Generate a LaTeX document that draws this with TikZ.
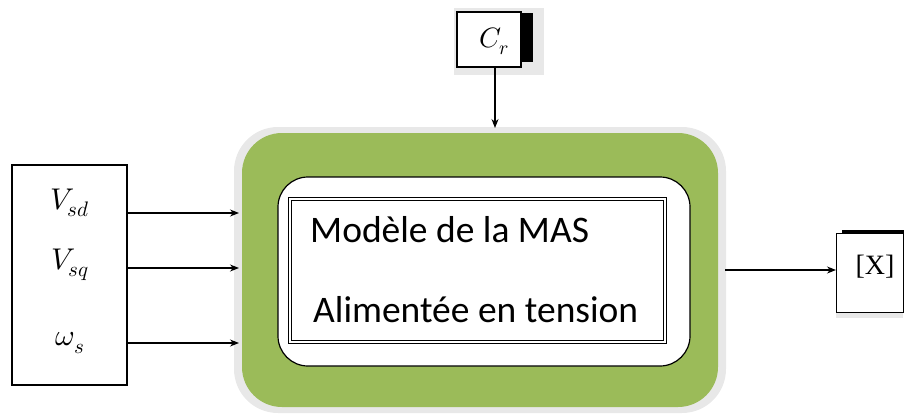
\documentclass[tikz,border=0pt]{standalone}
\usepackage{fontspec}
\usepackage{unicode-math}
\setmainfont{Carlito}
\setmathfont{Latin Modern Math}
\newfontfamily\serifx{Liberation Serif}
\usetikzlibrary{arrows.meta}
\definecolor{olive}{HTML}{9BBB59}
\definecolor{halo}{HTML}{E8E8E8}
\begin{document}
\begin{tikzpicture}[x=1pt,y=-1pt,
  conn/.style={draw=black,line width=1.2pt,-{Stealth[length=9pt,width=7pt]}},
  blk/.style={draw=black,line width=1.2pt,fill=white}]
\useasboundingbox (0,0) rectangle (904,415);
% C_r block
\fill[halo] (454,8) rectangle (544,75);
\fill[black] (515,13) rectangle (533,62);
\node[blk,minimum width=64pt,minimum height=55pt,inner sep=0pt] (cr) at (489,39.5) {};
\node (crl) at (494,41) {\fontsize{28}{30}\selectfont$C_r$};
% main green block
\fill[halo,rounded corners=44pt] (234,127) rectangle (726,413);
\node[fill=olive,rounded corners=40pt,minimum width=476pt,minimum height=274pt,inner sep=0pt] (mas) at (480,270) {};
\node[draw=black,line width=1.2pt,fill=white,rounded corners=30pt,minimum width=412pt,minimum height=189pt,inner sep=0pt] (inner) at (484,271.5) {};
\node[draw=black,line width=0.8pt,minimum width=378pt,minimum height=146pt,inner sep=0pt] (model) at (477,270) {};
\draw[line width=0.8pt] (291,200) rectangle (663,340);
\node[anchor=base west,inner sep=0pt] (t1) at (310,242) {\fontsize{37.5}{40}\selectfont Modèle de la MAS};
\node[anchor=base west,inner sep=0pt] (t2) at (313,322) {\fontsize{37.5}{40}\selectfont Alimentée en tension};
% input block
\node[blk,minimum width=115pt,minimum height=220pt,inner sep=0pt] (in) at (69.5,275) {};
\node (vsd) at (70,203) {\fontsize{30}{32}\selectfont$V_{sd}$};
\node (vsq) at (70,265) {\fontsize{30}{32}\selectfont$V_{sq}$};
\node (ws) at (70,343) {\fontsize{30}{32}\selectfont$\omega_s$};
\coordinate (a1) at (127,213); \coordinate (b1) at (239,213);
\coordinate (a2) at (127,268); \coordinate (b2) at (239,268);
\coordinate (a3) at (127,343); \coordinate (b3) at (239,343);
\draw[conn] (a1) -- (b1);
\draw[conn] (a2) -- (b2);
\draw[conn] (a3) -- (b3);
% C_r arrow
\coordinate (cb) at (495,128);
\draw[conn] (cr.south -| cb) -- (cb);
% output block
\fill[halo] (836,313) rectangle (903,318);
\fill[black] (842,230) rectangle (904,236);
\node[blk,minimum width=67pt,minimum height=79pt,inner sep=0pt,anchor=north west] (x) at (836,233) {};
\node[anchor=center] (xl) at (875,267) {\serifx\fontsize{28}{30}\selectfont [X]};
\coordinate (o1) at (725,270);
\draw[conn] (o1) -- (x.west |- o1);
\end{tikzpicture}
\end{document}
